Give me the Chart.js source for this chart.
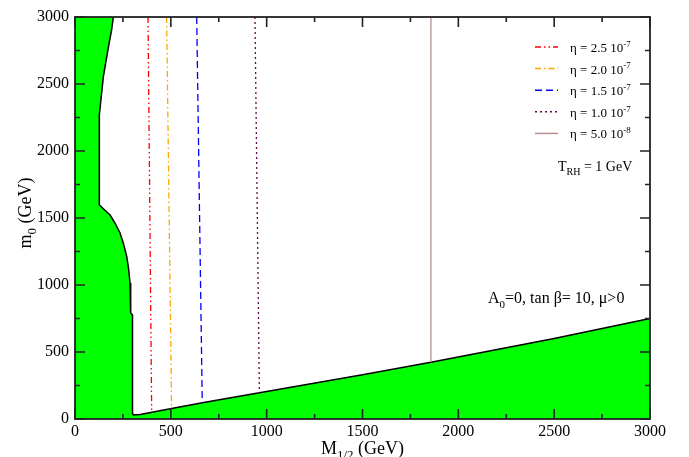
<!DOCTYPE html>
<html>
<head>
<meta charset="utf-8">
<script src="https://cdn.jsdelivr.net/npm/chart.js@4.4.0/dist/chart.umd.min.js"></script>
<style>
  html, body { margin: 0; padding: 0; background: #fff; }
</style>
</head>
<body>
<canvas id="chart" width="689" height="457"></canvas>
<script>
    /* axis ticks */
    const xTickValues = [0, 500, 1000, 1500, 2000, 2500, 3000];
    const yTickValues = [0, 500, 1000, 1500, 2000, 2500, 3000];

    /* excluded (green) region, M1/2 vs m0 in GeV */
    const stripM = [0, 127];
    const stripM0 = [3000, 3000];
    const topEdgeM = [127, 148, 175, 191, 200];
    const topEdgeM0 = [2269, 2555, 2780, 2903, 3000];
    const lowEdgeM = [127, 127, 183, 210, 235, 254, 270, 280, 287, 290, 291, 300, 300, 305, 340, 504, 664, 962, 1500, 1857, 2500, 3000];
    const lowEdgeM0 = [2269, 1597, 1522, 1459, 1388, 1302, 1211, 1116, 1015, 903, 791, 776, 45, 30, 33, 78, 122, 196, 330, 423, 600, 751];

    /* eta contours */
    const etaLabels = ['η = 2.5 10⁻⁷', 'η = 2.0 10⁻⁷', 'η = 1.5 10⁻⁷', 'η = 1.0 10⁻⁷', 'η = 5.0 10⁻⁸'];
    const etaTopM = [381, 478, 635, 939, 1857];
    const etaBottomM = [400, 504, 664, 962, 1857];
    const etaBottomM0 = [55, 80, 122, 196, 423];

    const etaColors = ['#ff0000', '#ffa500', '#0000ff', 'rgb(103,7,72)', 'rgb(188,143,143)'];
    const etaDash = [[6, 3, 1.5, 3, 1.5, 3], [6, 3, 1.5, 3], [7, 4], [2, 3], []];

    const serif = '"Liberation Serif", "DejaVu Serif", serif';
    const green = 'rgb(0,255,0)';
    const clear = 'rgba(0,0,0,0)';

    const pts = (xs, ys) => xs.map((x, i) => ({ x: x, y: ys[i] }));
    // fills start at the left axis so they overlap the strip (no seam)
    const fromAxis = (xs, ys) => [{ x: 0, y: ys[0] }].concat(pts(xs, ys));

    const datasets = [];
    etaLabels.forEach((lab, i) => {
        datasets.push({
            label: lab,
            data: [{ x: etaTopM[i], y: 3000 }, { x: etaBottomM[i], y: etaBottomM0[i] }],
            borderColor: etaColors[i],
            borderDash: etaDash[i],
            borderWidth: 1.3,
            showLine: true,
            pointRadius: 0,
            fill: false,
            isEta: true
        });
    });
    // boundary lines
    datasets.push({
        label: 'edge top', data: pts(topEdgeM, topEdgeM0),
        showLine: true, pointRadius: 0, borderWidth: 1.5, borderColor: '#000', fill: false
    });
    datasets.push({
        label: 'edge low', data: pts(lowEdgeM, lowEdgeM0),
        showLine: true, pointRadius: 0, borderWidth: 1.5, borderColor: '#000', fill: false
    });
    // green fills (no border)
    datasets.push({
        label: 'excluded top', data: fromAxis(topEdgeM, topEdgeM0),
        showLine: true, pointRadius: 0, borderWidth: 1, borderColor: clear,
        backgroundColor: green, fill: 'end'
    });
    datasets.push({
        label: 'excluded low', data: fromAxis(lowEdgeM, lowEdgeM0),
        showLine: true, pointRadius: 0, borderWidth: 1, borderColor: clear,
        backgroundColor: green, fill: 'origin'
    });
    datasets.push({
        label: 'excluded strip', data: pts(stripM, stripM0),
        showLine: true, pointRadius: 0, borderWidth: 1, borderColor: clear,
        backgroundColor: green, fill: 'origin'
    });

    /* text with sub/superscripts */
    function drawRich(ctx, parts, x, y, size) {
        // parts: [text, shift] shift: 0 normal, 1 sup, -1 sub
        let cx = x;
        parts.forEach(p => {
            const s = p[1] === 0 ? size : Math.round(size * 0.7);
            const dy = p[1] === 1 ? -size * 0.4 : (p[1] === -1 ? size * 0.3 : 0);
            ctx.font = s + 'px ' + serif;
            ctx.fillText(p[0], cx, y + dy);
            cx += ctx.measureText(p[0]).width;
        });
        return cx - x;
    }
    function richWidth(ctx, parts, size) {
        let w = 0;
        parts.forEach(p => {
            const s = p[1] === 0 ? size : Math.round(size * 0.7);
            ctx.font = s + 'px ' + serif;
            w += ctx.measureText(p[0]).width;
        });
        return w;
    }

    const supMap = { '⁻': '-', '⁰': '0', '¹': '1', '²': '2', '³': '3', '⁴': '4', '⁵': '5', '⁶': '6', '⁷': '7', '⁸': '8', '⁹': '9' };

    const framePlugin = {
        id: 'frame',
        afterDraw(chart) {
            const ctx = chart.ctx;
            const a = chart.chartArea;
            const xs = chart.scales.x, ys = chart.scales.y;
            ctx.save();
            ctx.strokeStyle = '#222';
            ctx.lineWidth = 1.8;
            ctx.strokeRect(a.left, a.top, a.right - a.left, a.bottom - a.top);

            ctx.lineWidth = 1.6;
            ctx.beginPath();
            for (let i = 0; i < xTickValues.length; i++) {
                const v = xTickValues[i];
                const px = xs.getPixelForValue(v);
                ctx.moveTo(px, a.bottom); ctx.lineTo(px, a.bottom - 10);
                ctx.moveTo(px, a.top); ctx.lineTo(px, a.top + 10);
                if (i < xTickValues.length - 1) {
                    const m = xs.getPixelForValue((v + xTickValues[i + 1]) / 2);
                    ctx.moveTo(m, a.bottom); ctx.lineTo(m, a.bottom - 5);
                    ctx.moveTo(m, a.top); ctx.lineTo(m, a.top + 5);
                }
            }
            for (let i = 0; i < yTickValues.length; i++) {
                const v = yTickValues[i];
                const py = ys.getPixelForValue(v);
                ctx.moveTo(a.left, py); ctx.lineTo(a.left + 10, py);
                ctx.moveTo(a.right, py); ctx.lineTo(a.right - 10, py);
                if (i < yTickValues.length - 1) {
                    const m = ys.getPixelForValue((v + yTickValues[i + 1]) / 2);
                    ctx.moveTo(a.left, m); ctx.lineTo(a.left + 5, m);
                    ctx.moveTo(a.right, m); ctx.lineTo(a.right - 5, m);
                }
            }
            ctx.stroke();

            /* axis titles */
            ctx.fillStyle = '#000';
            ctx.textBaseline = 'alphabetic';
            ctx.textAlign = 'left';
            const xt = [['M', 0], ['1/2', -1], [' (GeV)', 0]];
            const xw = richWidth(ctx, xt, 18);
            drawRich(ctx, xt, (a.left + a.right) / 2 - xw / 2, 454, 18);

            const yt = [['m', 0], ['0', -1], [' (GeV)', 0]];
            const yw = richWidth(ctx, yt, 18);
            ctx.save();
            ctx.translate(31, (a.top + a.bottom) / 2 - 5);
            ctx.rotate(-Math.PI / 2);
            drawRich(ctx, yt, -yw / 2, 0, 18);
            ctx.restore();

            /* legend */
            let row = 0;
            chart.data.datasets.forEach(ds => {
                if (!ds.isEta) return;
                const cy = 47 + row * 21.6;
                ctx.save();
                ctx.strokeStyle = ds.borderColor;
                ctx.lineWidth = 1.5;
                ctx.setLineDash(ds.borderDash);
                ctx.beginPath();
                ctx.moveTo(535, cy); ctx.lineTo(558, cy);
                ctx.stroke();
                ctx.restore();
                const m = ds.label.match(/^(.*?)([⁻⁰¹²³⁴⁵⁶⁷⁸⁹]+)$/);
                const base = m ? m[1] : ds.label;
                const sup = m ? m[2].split('').map(c => supMap[c]).join('') : '';
                drawRich(ctx, [[base, 0], [sup, 1]], 570, cy + 5, 13);
                row++;
            });

            /* annotations */
            drawRich(ctx, [['T', 0], ['RH', -1], [' = 1 GeV', 0]], 558, 171, 14);
            drawRich(ctx, [['A', 0], ['0', -1], ['=0, tan β= 10, μ>0', 0]], 488, 303, 16);
            ctx.restore();
        }
    };

    new Chart(document.getElementById('chart'), {
        type: 'scatter',
        data: { datasets: datasets },
        options: {
            responsive: false,
            animation: false,
            layout: { padding: { top: 17, right: 39, left: 0, bottom: 0 } },
            plugins: {
                legend: { display: false },
                tooltip: { enabled: false }
            },
            scales: {
                x: {
                    type: 'linear', min: 0, max: 3000,
                    grid: { display: false, drawTicks: false },
                    border: { display: false },
                    afterBuildTicks: s => { s.ticks = xTickValues.map(v => ({ value: v })); },
                    afterFit: s => { s.height = 38; },
                    ticks: { color: '#000', padding: 3, maxRotation: 0, font: { family: serif, size: 16 },
                             callback: v => String(v) }
                },
                y: {
                    type: 'linear', min: 0, max: 3000,
                    grid: { display: false, drawTicks: false },
                    border: { display: false },
                    afterBuildTicks: s => { s.ticks = yTickValues.map(v => ({ value: v })); },
                    afterFit: s => { s.width = 75; },
                    ticks: { color: '#000', padding: 6, font: { family: serif, size: 16 },
                             callback: v => String(v) }
                }
            }
        },
        plugins: [framePlugin]
    });
</script>
</body>
</html>
